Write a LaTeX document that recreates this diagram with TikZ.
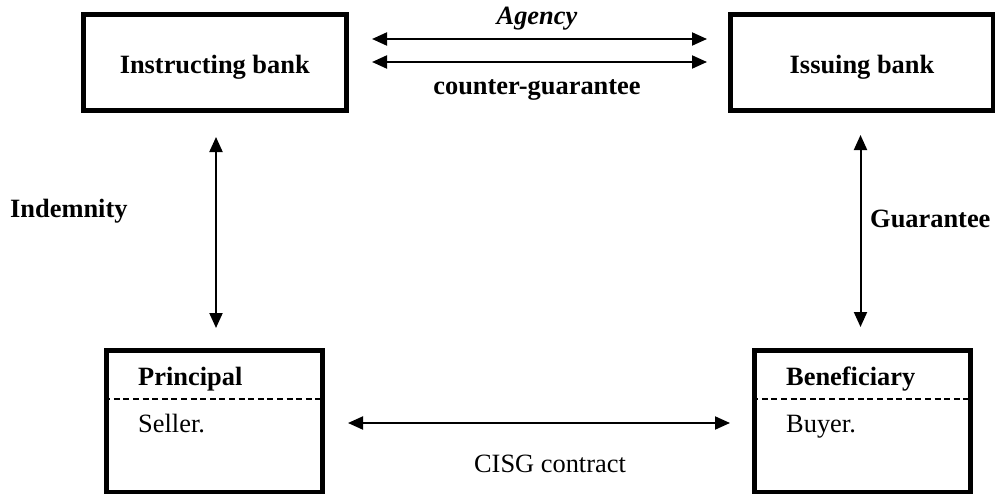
\documentclass[tikz,border=0pt]{standalone}
\usepackage{fontspec}
\setmainfont{Liberation Serif}
\usetikzlibrary{arrows.meta}
\begin{document}
\begin{tikzpicture}[x=1pt,y=-1pt,
  bank/.style={draw, line width=4.5pt, inner sep=0pt, minimum width=263pt, minimum height=96pt},
  party/.style={draw, line width=4.5pt, inner sep=0pt, minimum width=216pt, minimum height=141.5pt},
  txt/.style={inner sep=0pt, anchor=base, font=\fontsize{26.4}{30}\selectfont},
  btxt/.style={txt, font=\fontsize{26.4}{30}\selectfont\bfseries},
  itxt/.style={txt, font=\fontsize{26.4}{30}\selectfont\bfseries\itshape},
  rel/.style={line width=2pt, {Triangle[length=15pt,width=13pt]}-{Triangle[length=15pt,width=13pt]}},
  divider/.style={line width=1.5pt, dash pattern=on 6pt off 3.6pt}]
\useasboundingbox (0,0) rectangle (995,495);

% the four parties
\node[bank]  (instr) at (214.75,62.5) {};
\node[bank]  (issue) at (861.75,62.5) {};
\node[party] (princ) at (214.5,421.25) {};
\node[party] (benef) at (862.5,421.25) {};

\draw[divider] (princ.west |- 0,399) -- (princ.east |- 0,399);
\draw[divider] (benef.west |- 0,399) -- (benef.east |- 0,399);

% box texts
\node[btxt] (tinstr) at (214.75,74) {Instructing bank};
\node[btxt] (tissue) at (862,74) {Issuing bank};
\node[btxt, anchor=base west] (tprinc) at (138,385) {Principal};
\node[txt,  anchor=base west] (tsell)  at (138,432) {Seller.};
\node[btxt, anchor=base west] (tbenef) at (786,385) {Beneficiary};
\node[txt,  anchor=base west] (tbuy)   at (786,432) {Buyer.};

% connector end points
\coordinate (agL) at (372,39);
\coordinate (agR) at (707,39);
\coordinate (cgL) at (372,62);
\coordinate (cgR) at (707,62);
\coordinate (inT) at (216,137);
\coordinate (inB) at (216,328);
\coordinate (guT) at (860.5,135);
\coordinate (guB) at (860.5,327);
\coordinate (ctL) at (348,423);
\coordinate (ctR) at (730,423);

% relationships
\draw[rel] (agL) -- (agR);
\draw[rel] (cgL) -- (cgR);
\draw[rel] (inT) -- (inB);
\draw[rel] (guT) -- (guB);
\draw[rel] (ctL) -- (ctR);

% relationship labels
\node[txt, font=\fontsize{26.4}{30}\selectfont\bfseries\itshape] (lag) at (537,25) {Agency};
\node[btxt] (lcg) at (537,94) {counter-guarantee};
\node[btxt, anchor=base west] (lin) at (10,217) {Indemnity};
\node[btxt, anchor=base west] (lgu) at (870,227) {Guarantee};
\node[txt] (lct) at (550,472) {CISG contract};
\end{tikzpicture}
\end{document}
